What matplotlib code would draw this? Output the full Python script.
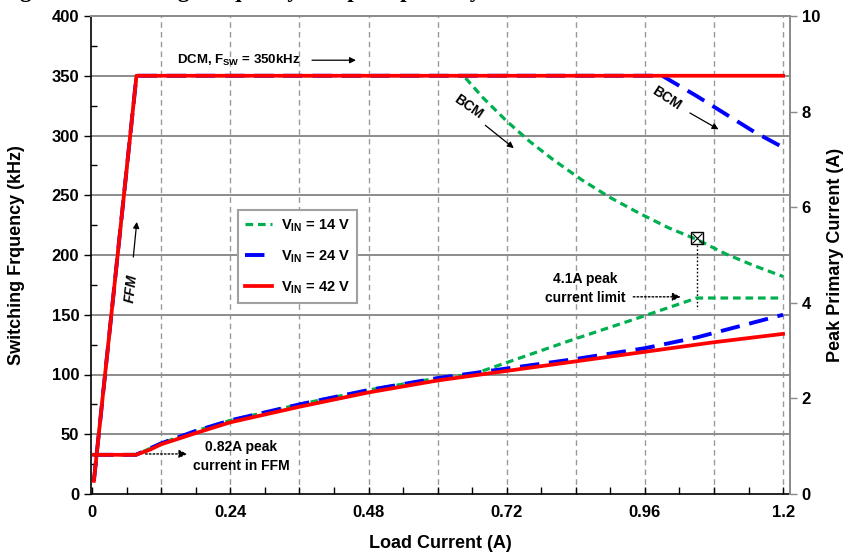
import matplotlib
matplotlib.use("Agg")
import matplotlib.pyplot as plt
import numpy as np
from matplotlib.ticker import MultipleLocator, FixedLocator

plt.rcParams['font.family'] = ['Liberation Sans', 'DejaVu Sans']
plt.rcParams['font.weight'] = 'bold'
plt.rcParams['mathtext.fontset'] = 'custom'
plt.rcParams['mathtext.rm'] = 'Liberation Sans:bold'
plt.rcParams['mathtext.bf'] = 'Liberation Sans:bold'
plt.rcParams['mathtext.it'] = 'Liberation Sans:bold:italic'
plt.rcParams['lines.scale_dashes'] = False

# ---------------- data ----------------
# Switching frequency (kHz) vs load current (A)
freq_i_42 = [0.003, 0.077, 1.2]
freq_f_42 = [11, 350, 350]
freq_i_24 = [0.003, 0.077, 0.99, 1.05, 1.10, 1.15, 1.2]
freq_f_24 = [11, 350, 350, 333, 318, 303, 290]
freq_i_14 = [0.003, 0.077, 0.645, 0.68, 0.72, 0.76, 0.80, 0.85, 0.90, 0.95, 1.00, 1.05, 1.10, 1.15, 1.2]
freq_f_14 = [11, 350, 350, 331, 312, 295, 280, 263, 248, 235, 223, 213, 201, 191, 182]

# Peak primary current (A) vs load current (A)
ipk_i_42 = [0.003, 0.076, 0.10, 0.12, 0.18, 0.24, 0.36, 0.48, 0.60, 0.72, 0.84, 0.96, 1.08, 1.2]
ipk_a_42 = [0.82, 0.82, 0.925, 1.04, 1.275, 1.50, 1.825, 2.125, 2.375, 2.575, 2.775, 2.975, 3.175, 3.35]
ipk_i_24 = [0.003, 0.076, 0.12, 0.18, 0.24, 0.36, 0.48, 0.60, 0.72, 0.84, 0.96, 1.05, 1.2]
ipk_a_24 = [0.82, 0.82, 1.06, 1.32, 1.54, 1.875, 2.175, 2.425, 2.625, 2.825, 3.05, 3.275, 3.75]
ipk_i_14 = [0.003, 0.076, 0.12, 0.18, 0.24, 0.36, 0.48, 0.60, 0.66, 0.72, 0.83, 0.95, 1.05, 1.2]
ipk_a_14 = [0.82, 0.82, 1.06, 1.32, 1.54, 1.875, 2.175, 2.425, 2.5, 2.75, 3.21, 3.69, 4.1, 4.1]

x_ticks = [0, 0.24, 0.48, 0.72, 0.96, 1.2]
x_tick_labels = ['0', '0.24', '0.48', '0.72', '0.96', '1.2']
legend_labels = [r'V$_{\mathregular{IN}}$ = 14 V', r'V$_{\mathregular{IN}}$ = 24 V', r'V$_{\mathregular{IN}}$ = 42 V']

GREEN = '#00B050'
BLUE = '#0000FF'
RED = '#FF0000'

fig = plt.figure(figsize=(8.48, 5.56), dpi=100)
ax = fig.add_axes([91/848, 1-494/556, 699/848, 478/556])
ax2 = ax.twinx()

ax.set_xlim(-0.002, 1.212)
ax.set_ylim(0, 400)
ax2.set_ylim(0, 10)

# grid
for xv in np.arange(0.12, 1.21, 0.12):
    ax.axvline(xv, color='#999999', lw=1.0, ls=(0, (4, 3)), zorder=0)
for yv in range(50, 400, 50):
    ax.axhline(yv, color='#8c8c8c', lw=1.4, zorder=0)

# frequency curves
l14, = ax.plot(freq_i_14, freq_f_14, color=GREEN, lw=2.3, dashes=(5.5, 3.5), zorder=3)
l24, = ax.plot(freq_i_24, freq_f_24, color=BLUE, lw=2.8, dashes=(14, 7), zorder=4)
l42, = ax.plot(freq_i_42, freq_f_42, color=RED, lw=2.7, zorder=5)

# peak current curves
ax2.plot(ipk_i_14, ipk_a_14, color=GREEN, lw=2.3, dashes=(5.5, 3.5), zorder=3)
ax2.plot(ipk_i_24, ipk_a_24, color=BLUE, lw=2.8, dashes=(14, 7), zorder=4)
ax2.plot(ipk_i_42, ipk_a_42, color=RED, lw=2.7, zorder=5)

# ticks
ax.xaxis.set_major_locator(FixedLocator(x_ticks))
ax.set_xticklabels(x_tick_labels)
ax.xaxis.set_minor_locator(MultipleLocator(0.06))
ax.yaxis.set_major_locator(MultipleLocator(50))
ax.yaxis.set_minor_locator(MultipleLocator(25))
ax2.yaxis.set_major_locator(MultipleLocator(2))
ax.tick_params(axis='x', which='both', direction='in', length=5, width=1, labelsize=12, pad=8, top=False)
ax.tick_params(axis='y', which='major', direction='out', length=5, width=1, labelsize=12)
ax.tick_params(axis='y', which='minor', direction='in', length=4, width=1)
ax2.tick_params(axis='y', which='major', direction='out', length=5, width=1, labelsize=12, color='#888888')
for lab in ax.get_xticklabels() + ax.get_yticklabels() + ax2.get_yticklabels():
    lab.set_fontweight('bold')

for s in ['left', 'bottom']:
    ax.spines[s].set_color('black')
    ax.spines[s].set_linewidth(1.2)
for s in ['top', 'right']:
    ax.spines[s].set_color('#8c8c8c')
    ax2.spines[s].set_color('#8c8c8c')
    ax.spines[s].set_linewidth(1.4)
    ax2.spines[s].set_linewidth(1.4)
ax2.spines['left'].set_visible(False)
ax2.spines['bottom'].set_visible(False)

ax.set_xlabel('Load Current (A)', fontsize=13, fontweight='bold')
ax.xaxis.set_label_coords(0.5, -0.085)
ax.set_ylabel('Switching Frquency (kHz)', fontsize=13, fontweight='bold')
ax.yaxis.set_label_coords(-0.094, 0.5)
ax2.set_ylabel('Peak Primary Current (A)', fontsize=13, fontweight='bold', labelpad=5)

# legend
leg = ax.legend([l14, l24, l42], legend_labels, loc='upper left', bbox_to_anchor=(0.21, 0.594),
                fancybox=False, framealpha=1, edgecolor='#a0a0a0', fontsize=10.5,
                handlelength=1.85, borderpad=0.5, labelspacing=1.0, handletextpad=0.6,
                borderaxespad=0)
leg.get_frame().set_linewidth(1.5)
for t in leg.get_texts():
    t.set_fontweight('bold')
leg.set_zorder(6)

# annotations
arrow_kw = dict(arrowstyle='-|>', color='black', lw=0.9, mutation_scale=9)
ax.text(0.147, 363, r'DCM, F$_{\mathregular{SW}}$ = 350kHz', fontsize=9.5, fontweight='bold',
        ha='left', va='center', zorder=7)
ax.annotate('', xy=(0.463, 363), xytext=(0.377, 363), arrowprops=arrow_kw, zorder=7)

ax.text(0.653, 324, 'BCM', fontsize=10, fontweight='bold', rotation=-35,
        ha='center', va='center', zorder=7)
ax.annotate('', xy=(0.736, 288), xytext=(0.679, 310), arrowprops=arrow_kw, zorder=7)

ax.text(0.997, 331, 'BCM', fontsize=10, fontweight='bold', rotation=-33,
        ha='center', va='center', zorder=7)
ax.annotate('', xy=(1.092, 304), xytext=(1.034, 320), arrowprops=arrow_kw, zorder=7)

ax.text(0.068, 172, 'FFM', fontsize=10, fontweight='bold', style='italic', rotation=84,
        ha='center', va='center', zorder=7)
ax.annotate('', xy=(0.078, 230), xytext=(0.071, 196), arrowprops=arrow_kw, zorder=7)

dot_kw = dict(arrowstyle='-|>', color='black', lw=1.0, ls=(0, (1.2, 1.5)), mutation_scale=12)
ax.text(0.259, 31, '0.82A peak\ncurrent in FFM', fontsize=10, fontweight='bold',
        ha='center', va='center', linespacing=1.45, zorder=7)
ax.annotate('', xy=(0.170, 33.5), xytext=(0.088, 33.5), arrowprops=dot_kw, zorder=7)

ax.text(0.856, 172, '4.1A peak\ncurrent limit', fontsize=10, fontweight='bold',
        ha='center', va='center', linespacing=1.45, zorder=7)
ax.annotate('', xy=(1.027, 165), xytext=(0.935, 165), arrowprops=dot_kw, zorder=7)

ax.plot([1.051, 1.051], [208, 155], color='black', lw=1.0, ls=(0, (1.2, 1.5)), zorder=7)
ax.plot([1.051], [214], marker='s', ms=8, mfc='none', mec='black', mew=1.0, zorder=8)
ax.plot([1.051], [214], marker='x', ms=7, mec='black', mew=0.8, zorder=8)

# clipped figure title (only descenders visible, as in the source image)
fig.text(0.0, 1.006, 'Figure 7. Switching Frequency and peak primary current vs. load current',
         fontsize=16.5, fontweight='bold', family=['Liberation Serif', 'DejaVu Serif'],
         ha='left', va='baseline')

fig.savefig('out.png', dpi=100)
